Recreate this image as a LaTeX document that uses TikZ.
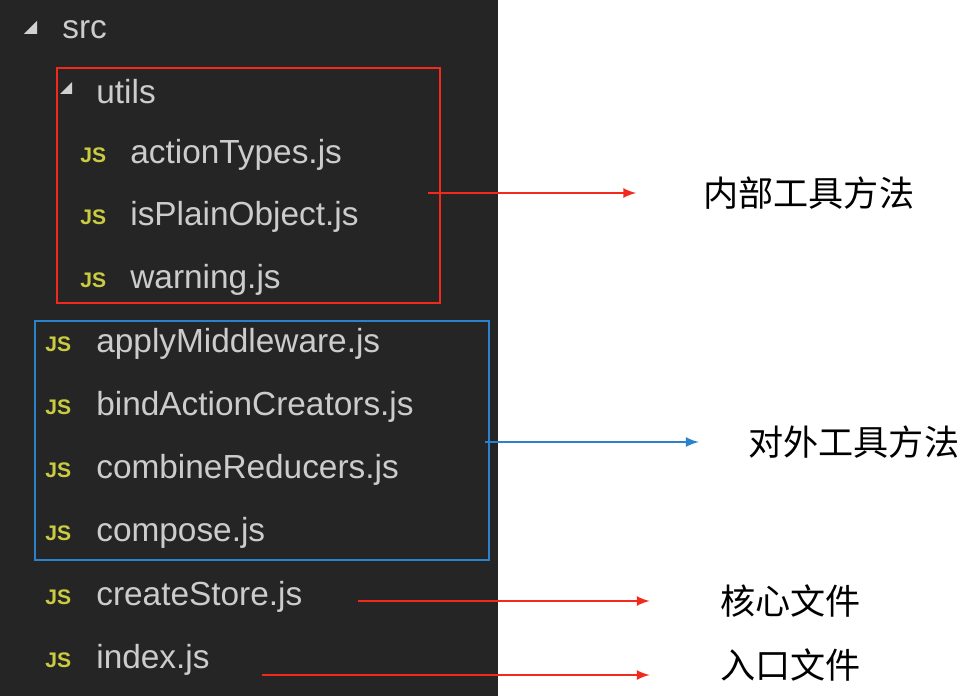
\documentclass[tikz,border=0pt]{standalone}
\usepackage{fontspec}
\setmainfont{Liberation Sans}
\newfontfamily\cjk{Noto Sans CJK SC}
\definecolor{panel}{HTML}{252526}
\definecolor{fname}{HTML}{CCCCCC}
\definecolor{jsyellow}{HTML}{CBCB41}
\definecolor{boxred}{HTML}{F22A1E}
\definecolor{boxblue}{HTML}{2A82CC}
\tikzset{
  file/.style={anchor=west, inner sep=0pt, text=fname, font=\fontsize{19}{22}\selectfont},
  jsicon/.style={anchor=west, inner sep=0pt, text=jsyellow, font=\bfseries\fontsize{12}{14}\selectfont},
  note/.style={anchor=west, inner sep=0pt, font=\cjk\fontsize{20}{24}\selectfont},
  twisty/.style={fill=fname!90!white},
}
\begin{document}
\begin{tikzpicture}[x=0.02cm, y=-0.02cm]
        \useasboundingbox (0,0) rectangle (976,696);
        \fill[panel] (0,0) rectangle (498,696);

        % folders
        \fill[twisty] (37,21) -- (37,34) -- (24,34) -- cycle;
        \node[file] (src) at (62,30) {src};
        \fill[twisty] (72,82) -- (72,94) -- (60,94) -- cycle;
        \node[file] (utils) at (96,92) {utils};

        % files inside utils
        \foreach \name/\y/\txt in {actionTypes/155/actionTypes.js, isPlainObject/217/isPlainObject.js, warning/280/warning.js} {
            \node[jsicon] (\name-js) at (80,\y) {JS};
            \node[file] (\name) at (130,\y) {\txt};
        }

        % files in src
        \foreach \name/\y/\txt in {applyMiddleware/344/applyMiddleware.js, bindActionCreators/407/bindActionCreators.js, combineReducers/470/combineReducers.js, compose/533/compose.js, createStore/597/createStore.js, index/660/index.js} {
            \node[jsicon] (\name-js) at (45,\y) {JS};
            \node[file] (\name) at (96,\y) {\txt};
        }

        % groups
        \draw[boxred, line width=1.5pt] (57,68) rectangle (440,303);
        \draw[boxblue, line width=1.5pt] (35,321) rectangle (489,560);

        % notes
        \node[note] (inner) at (703,193) {内部工具方法};
        \node[note] (outer) at (748,442) {对外工具方法};
        \node[note] (core) at (720,601) {核心文件};
        \node[note] (entry) at (720,665) {入口文件};

        \coordinate (innerfrom) at (428,193);
        \coordinate (outerfrom) at (485,442);
        \coordinate (corefrom) at (358,601);
        \coordinate (entryfrom) at (262,675);
        \draw[boxred, line width=1.5pt, -latex] (innerfrom) -- ([xshift=-38]inner.west);
        \draw[boxblue, line width=1.5pt, -latex] (outerfrom) -- ([xshift=-28]outer.west);
        \draw[boxred, line width=1.5pt, -latex] (corefrom) -- ([xshift=-40]core.west);
        \draw[boxred, line width=1.5pt, -latex] (entryfrom) -- ([xshift=-40]entry.west |- entryfrom);
\end{tikzpicture}
\end{document}
